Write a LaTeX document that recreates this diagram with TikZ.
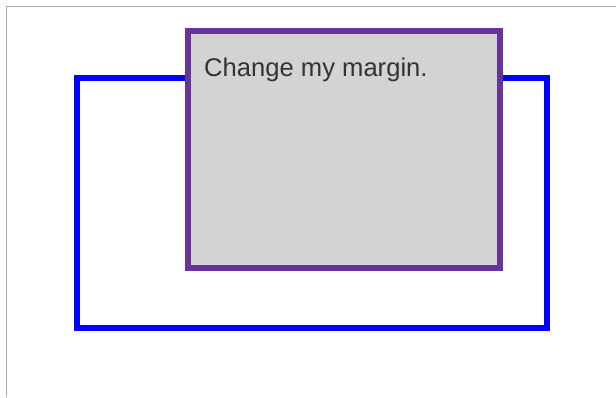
\documentclass[tikz,border=0pt]{standalone}
\usepackage{fontspec}
\setmainfont{Liberation Sans}
\definecolor{framegray}{HTML}{A9A9A9}
\definecolor{rebecca}{HTML}{663399}
\definecolor{boxgray}{HTML}{D3D3D3}
\definecolor{textgray}{HTML}{333333}
\begin{document}
\begin{tikzpicture}[x=1pt,y=-1pt,
  outerbox/.style={draw=blue,line width=6pt},
  innerbox/.style={draw=rebecca,fill=boxgray,line width=6pt},
  pagebord/.style={draw=framegray,line width=1pt}]
\useasboundingbox (0,0) rectangle (616,397);
\draw[pagebord] (6.5,397) -- (6.5,6.5) -- (616,6.5);
\draw[outerbox] (77,78) rectangle (547,328);
\draw[innerbox] (188,31) rectangle (500,268);
\node[anchor=base west,inner sep=0pt,text=textgray,font=\fontsize{25.6}{30}\selectfont] (label) at (204,76.5) {Change my margin.};
\end{tikzpicture}
\end{document}
